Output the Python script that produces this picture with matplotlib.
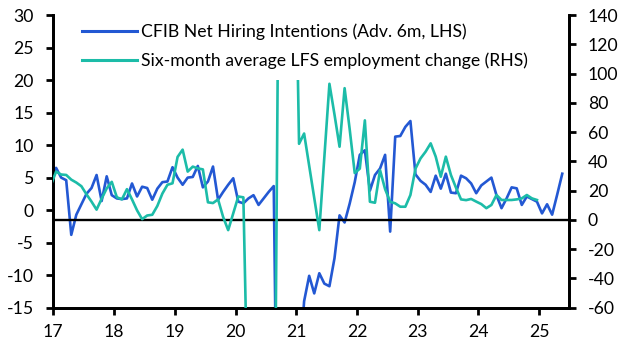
import matplotlib
matplotlib.use("Agg")
import matplotlib.pyplot as plt
import numpy as np

# ---- data (monthly, first value = Dec 2016) ----
cfib_hiring = [5.0, 6.5, 5.0, 4.6, -3.8, -0.7, 0.9, 2.5, 3.4, 5.4, 1.4, 5.2, 2.3,
               1.8, 1.7, 1.8, 4.1, 2.1, 3.6, 3.4, 1.6, 3.3, 4.3, 4.4, 6.6,
               5.0, 3.9, 5.0, 5.1, 6.8, 3.5, 4.4, 6.7, 1.6, 2.8, 3.9, 4.9,
               1.3, 1.05, 1.8, 2.3, 0.8, 1.8, 2.8, 3.7, -60, -55, -45, -35,
               -25, -14, -10.1, -12.8, -9.7, -11.3, -11.7, -7.4, -0.8, -1.9, 1.0, 4.3,
               8.5, 9.2, 3.0, 5.4, 6.4, 8.5, -3.3, 11.3, 11.4, 12.8, 13.7, 5.5,
               4.5, 3.9, 2.8, 5.3, 3.3, 5.6, 2.7, 2.6, 5.3, 4.9, 4.1, 2.6,
               3.8, 4.4, 5.0, 2.3, 0.3, 1.8, 3.5, 3.35, 0.8, 2.1, 1.7, 1.3,
               -0.5, 0.9, -0.7, 2.4, 5.6]
lfs_6m_avg = [24, 33, 31, 30.7, 27.5, 25.5, 23, 17.5, 12.5, 7, 14.5, 21.5, 26,
              15.5, 14, 21, 14, 6.5, 0.5, 3, 3.5, 9.5, 18, 24, 25,
              43, 48, 33, 36.4, 35.2, 34.5, 12, 11.5, 14, 2, -7, 4.5,
              16, 15.4, -150, -500, -450, -350, -300, -250, 200, 300, 350, 250,
              52, 59, 37, 15, -7, 43, 93, 72, 50, 90, 62, 32,
              35, 68, 12.4, 11.7, 34, 21, 12.4, 11.3, 9, 9, 17, 35,
              42, 46.6, 52.3, 43.2, 29.5, 43.2, 30.7, 22, 14, 13.5, 14.3, 12.5,
              10.8, 8, 10.2, 17, 13.6, 13.6, 13.6, 14, 14.7, 17, 14.7, 13.6]
start_year, start_month = 2016, 12
year_ticks = list(range(2017, 2026))
year_labels = [str(y)[2:] for y in year_ticks]
left_ticks = list(range(-15, 31, 5))
right_ticks = list(range(-60, 141, 20))
label_blue = "CFIB Net Hiring Intentions (Adv. 6m, LHS)"
label_green = "Six-month average LFS employment change (RHS)"


def month_dates(n):
    return np.array([start_year + (start_month - 1 + i + 0.55) / 12.0 for i in range(n)])


t_blue = month_dates(len(cfib_hiring))
t_green = month_dates(len(lfs_6m_avg))

BLUE = "#2358D3"
GREEN = "#1CBCA8"
FONT = "Lato"
FS = 12.7

plt.rcParams["font.family"] = [FONT, "DejaVu Sans"]

fig = plt.figure(figsize=(6.28, 3.52), dpi=100)
ax = fig.add_axes([53.3 / 628, 1 - 307.7 / 352, (569 - 53.3) / 628, (307.7 - 15) / 352])
ax2 = ax.twinx()

ax.set_xlim(2017, 2025.49)
ax.set_ylim(-15, 30)
ax2.set_ylim(-60, 140)

ax2.axhline(0, color="black", lw=1.7, zorder=1)
lb, = ax.plot(t_blue, cfib_hiring, color=BLUE, lw=1.9, zorder=2)
lg, = ax2.plot(t_green, lfs_6m_avg, color=GREEN, lw=1.9, zorder=3)

ax.set_yticks(left_ticks)
ax.set_yticklabels([str(v) for v in left_ticks])
ax2.set_yticks(right_ticks)
ax2.set_yticklabels([str(v) for v in right_ticks])
ax.set_xticks(year_ticks)
ax.set_xticklabels(year_labels)

for a in (ax, ax2):
    a.spines["top"].set_visible(False)
    for s in ("left", "right", "bottom"):
        a.spines[s].set_linewidth(2.0)
        a.spines[s].set_color("black")
    a.patch.set_visible(False)

ax.tick_params(axis="y", direction="out", length=5, width=2, pad=9, labelsize=FS)
ax2.tick_params(axis="y", direction="out", length=5, width=2, pad=8.5, labelsize=FS)
ax.tick_params(axis="x", direction="out", length=5, width=2, pad=6.5, labelsize=FS)

leg = ax2.legend([lb, lg], [label_blue, label_green], loc="upper left",
                 bbox_to_anchor=(71.5 / 628, 1 - 12.5 / 352), bbox_transform=fig.transFigure,
                 frameon=True, fancybox=False, facecolor="white", edgecolor="none",
                 framealpha=1, fontsize=FS, handlelength=3.1, handletextpad=0.22,
                 labelspacing=0.7, borderpad=0.62, borderaxespad=0)
leg.set_zorder(10)
for h in leg.get_lines():
    h.set_linewidth(2.2)

fig.savefig("out.png", dpi=100)
